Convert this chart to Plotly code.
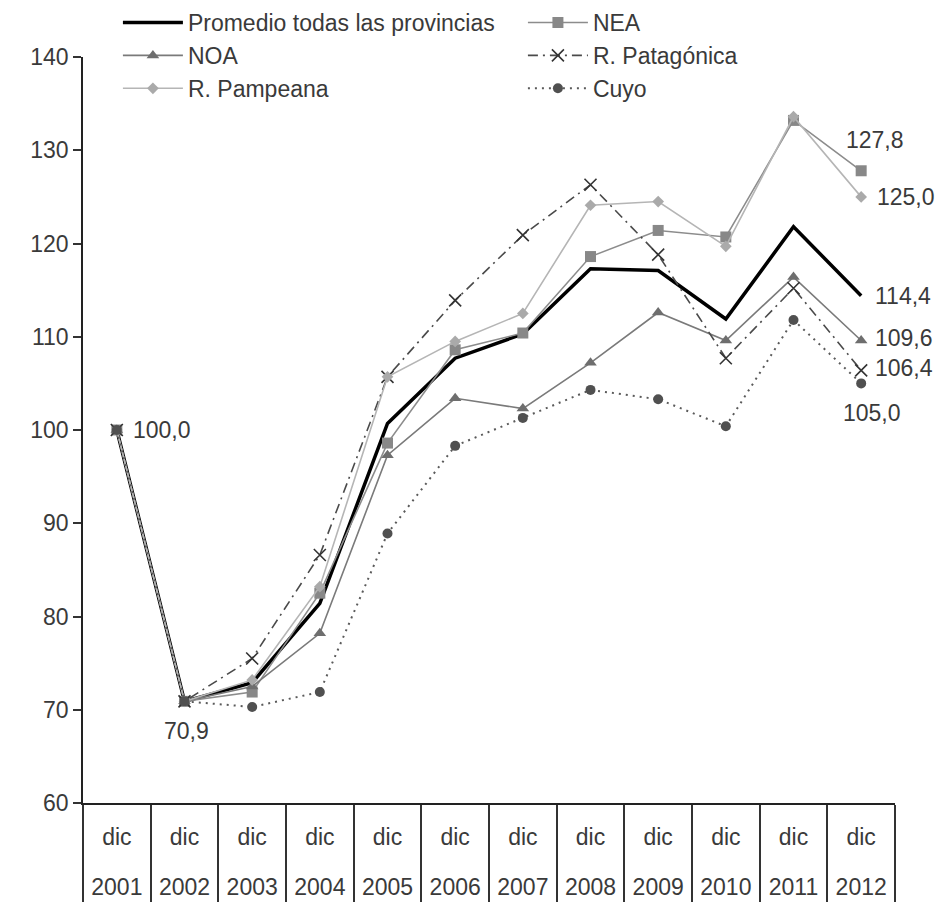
import plotly.graph_objects as go

years = ["2001", "2002", "2003", "2004", "2005", "2006", "2007", "2008", "2009", "2010", "2011", "2012"]
month_label = "dic"

promedio = [100.0, 70.9, 72.9, 81.4, 100.7, 107.7, 110.3, 117.3, 117.1, 111.9, 121.8, 114.4]
nea = [100.0, 70.9, 71.9, 82.5, 98.6, 108.6, 110.4, 118.6, 121.4, 120.7, 133.2, 127.8]
noa = [100.0, 70.9, 72.5, 78.2, 97.3, 103.4, 102.3, 107.2, 112.6, 109.6, 116.4, 109.6]
patagonia = [100.0, 70.9, 75.5, 86.6, 105.7, 113.9, 120.9, 126.3, 118.8, 107.7, 115.2, 106.4]
pampeana = [100.0, 70.9, 73.2, 83.2, 105.7, 109.5, 112.5, 124.1, 124.5, 119.7, 133.6, 125.0]
cuyo = [100.0, 70.9, 70.3, 71.9, 88.9, 98.3, 101.3, 104.3, 103.3, 100.4, 111.8, 105.0]

FONT = "Liberation Sans Narrow, Arial Narrow, Liberation Sans, Arial, sans-serif"
TXT = "#3a3a3a"
FS = 23

x = list(range(len(years)))
fig = go.Figure()

series = [
    ("Promedio todas las provincias", promedio, dict(color="#000000", width=3.5), None),
    ("NEA", nea, dict(color="#8c8c8c", width=1.6), dict(symbol="square", size=11, color="#888888")),
    ("NOA", noa, dict(color="#7a7a7a", width=1.6), dict(symbol="triangle-up", size=11, color="#6e6e6e")),
    ("R. Patagónica", patagonia, dict(color="#4a4a4a", width=1.6, dash="10px,5px,2px,5px"),
     dict(symbol="x-thin-open", size=12, color="#333333", line=dict(width=1.6, color="#333333"))),
    ("R. Pampeana", pampeana, dict(color="#b5b5b5", width=1.6), dict(symbol="diamond", size=9, color="#aaaaaa")),
    ("Cuyo", cuyo, dict(color="#5a5a5a", width=2, dash="2px,5px"), dict(symbol="circle", size=10, color="#505050")),
]

for name, vals, line, marker in series:
    fig.add_trace(go.Scatter(
        x=x, y=vals, name=name,
        mode="lines" if marker is None else "lines+markers",
        line=line, marker=marker, hoverinfo="skip", cliponaxis=False))

# helper invisible traces for label axes
for ax in ["x2", "x3"]:
    fig.add_trace(go.Scatter(x=x, y=promedio, xaxis=ax, mode="markers",
                             marker=dict(opacity=0), showlegend=False, hoverinfo="skip"))

def fmt(v):
    return f"{v:.1f}".replace(".", ",")

# value labels
ann = []
ann.append(dict(x=x[0], y=promedio[0], text=fmt(promedio[0]), xanchor="left", yanchor="middle", xshift=14, yshift=0))
ann.append(dict(x=x[1], y=promedio[1], text=fmt(promedio[1]), xanchor="center", yanchor="middle", xshift=2, yshift=-30))
last = len(years) - 1
ann.append(dict(x=x[last], y=nea[last], text=fmt(nea[last]), xanchor="center", yanchor="middle", xshift=14, yshift=31))
ann.append(dict(x=x[last], y=pampeana[last], text=fmt(pampeana[last]), xanchor="left", yanchor="middle", xshift=14, yshift=0))
ann.append(dict(x=x[last], y=promedio[last], text=fmt(promedio[last]), xanchor="left", yanchor="middle", xshift=12, yshift=0))
ann.append(dict(x=x[last], y=noa[last], text=fmt(noa[last]), xanchor="left", yanchor="middle", xshift=12, yshift=2))
ann.append(dict(x=x[last], y=patagonia[last], text=fmt(patagonia[last]), xanchor="left", yanchor="middle", xshift=12, yshift=2))
ann.append(dict(x=x[last], y=cuyo[last], text=fmt(cuyo[last]), xanchor="center", yanchor="middle", xshift=11, yshift=-30))
for a in ann:
    a.update(xref="x", yref="y", showarrow=False, font=dict(family=FONT, size=FS, color=TXT))

rng = [-0.5, len(years) - 0.5]
bounds = [i - 0.5 for i in range(len(years) + 1)]

fig.update_layout(
    width=936, height=894,
    margin=dict(l=75, r=49, t=49, b=99, autoexpand=False),
    paper_bgcolor="white", plot_bgcolor="white",
    font=dict(family=FONT, size=FS, color=TXT),
    annotations=ann,
    showlegend=True,
    legend=dict(orientation="h", xref="paper", yref="paper",
                x=0.043, y=1.075, xanchor="left", yanchor="top",
                entrywidth=330, itemwidth=60, traceorder="normal",
                font=dict(family=FONT, size=FS, color=TXT),
                bgcolor="rgba(0,0,0,0)", tracegroupgap=0),
    xaxis=dict(range=rng, tickmode="array", tickvals=bounds, showticklabels=False,
               ticks="outside", ticklen=100, tickwidth=1.5, tickcolor="#333333",
               showline=True, linecolor="#222222", linewidth=1.5, showgrid=False, zeroline=False),
    xaxis2=dict(overlaying="x", anchor="y", side="bottom", range=rng, tickmode="array",
                tickvals=x, ticktext=[month_label] * len(years), ticks="", showline=False,
                showgrid=False, zeroline=False, ticklabelstandoff=18,
                tickfont=dict(family=FONT, size=FS, color=TXT)),
    xaxis3=dict(overlaying="x", anchor="y", side="bottom", range=rng, tickmode="array",
                tickvals=x, ticktext=years, ticks="", showline=False,
                showgrid=False, zeroline=False, ticklabelstandoff=68,
                tickfont=dict(family=FONT, size=FS, color=TXT)),
    yaxis=dict(range=[60, 140], dtick=10, tick0=60, ticks="outside", ticklen=8,
               tickwidth=1.5, tickcolor="#333333", showline=True, linecolor="#222222",
               linewidth=1.5, showgrid=False, zeroline=False,
               tickfont=dict(family=FONT, size=FS, color=TXT)),
)

fig.write_html("out.html")
